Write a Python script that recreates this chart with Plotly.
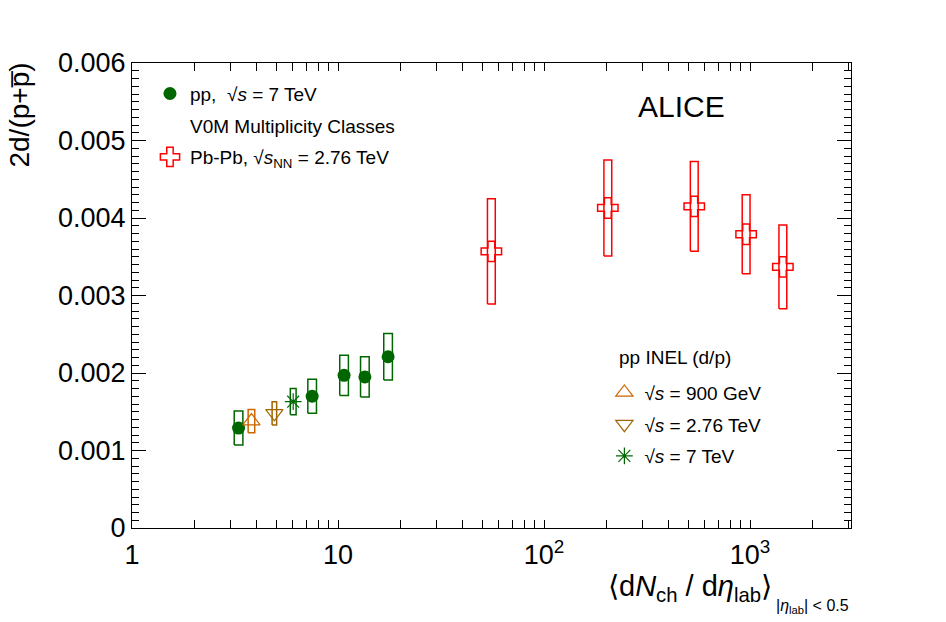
import plotly.graph_objects as go

# ---------------- data ----------------
# pp 7 TeV, V0M multiplicity classes
pp_mult_x = [3.29, 7.49, 10.7, 13.5, 17.5]
pp_mult_y = [0.00129, 0.00170, 0.00197, 0.00195, 0.00221]
pp_mult_sys = [0.00022, 0.00022, 0.00026, 0.00026, 0.00030]

# Pb-Pb 2.76 TeV
pbpb_x = [55.5, 204, 536, 957, 1443]
pbpb_y = [0.00357, 0.00413, 0.00415, 0.00379, 0.00337]
pbpb_sys = [0.00068, 0.00062, 0.00058, 0.00051, 0.00054]

# pp INEL (d/p)
inel900_x = [3.80]
inel900_y = [0.00138]
inel900_sys = [0.00015]

inel276_x = [4.91]
inel276_y = [0.00148]
inel276_sys = [0.00015]

inel7_x = [6.06]
inel7_y = [0.00163]
inel7_sys = [0.00017]

y_tickvals = [0, 0.001, 0.002, 0.003, 0.004, 0.005, 0.006]
y_ticktext = ["0", "0.001", "0.002", "0.003", "0.004", "0.005", "0.006"]
x_decades = [1, 10, 100, 1000]
x_decade_text = ["1", "10", "10<sup>2</sup>", "10<sup>3</sup>"]

# ---------------- styles ----------------
FONT = "Liberation Sans, Arial, Helvetica, sans-serif"
GREEN = "#006600"
RED = "#ff0000"
ORANGE = "#cc6600"
BROWN = "#a06400"


def box_trace(xs, ys, sys, halfw_dec, color, width=1.5):
    bx, by = [], []
    f = 10 ** halfw_dec
    for x, y, s in zip(xs, ys, sys):
        x0, x1 = x / f, x * f
        bx += [x0, x1, x1, x0, x0, None]
        by += [y - s, y - s, y + s, y + s, y - s, None]
    return go.Scatter(x=bx, y=by, mode="lines", line=dict(color=color, width=width),
                      showlegend=False, hoverinfo="skip")


fig = go.Figure()

# systematic boxes
fig.add_trace(box_trace(pp_mult_x, pp_mult_y, pp_mult_sys, 0.021, GREEN))
fig.add_trace(box_trace(inel900_x, inel900_y, inel900_sys, 0.016, ORANGE))
fig.add_trace(box_trace(inel276_x, inel276_y, inel276_sys, 0.011, BROWN))
fig.add_trace(box_trace(inel7_x, inel7_y, inel7_sys, 0.014, GREEN))
fig.add_trace(box_trace(pbpb_x, pbpb_y, pbpb_sys, 0.019, RED))

# markers + legend 1
fig.add_trace(go.Scatter(x=pp_mult_x, y=pp_mult_y, mode="markers",
                         marker=dict(symbol="circle", size=13, color=GREEN),
                         name="pp,  √<i>s</i> = 7 TeV", legend="legend", legendgroup="a"))
fig.add_trace(go.Scatter(x=[None], y=[None], mode="markers",
                         marker=dict(symbol="circle", size=1, color="rgba(0,0,0,0)"),
                         name="V0M Multiplicity Classes", legend="legend", legendgroup="b"))
fig.add_trace(go.Scatter(x=pbpb_x, y=pbpb_y, mode="markers",
                         marker=dict(symbol="cross-open", size=17, color=RED,
                                     line=dict(color=RED, width=1.5)),
                         name="Pb-Pb, √<i>s</i><sub>NN</sub> = 2.76 TeV", legend="legend",
                         legendgroup="c"))

# legend 2
fig.add_trace(go.Scatter(x=inel900_x, y=inel900_y, mode="markers",
                         marker=dict(symbol="triangle-up-open", size=15, color=ORANGE,
                                     line=dict(color=ORANGE, width=1.2)),
                         name="√<i>s</i> = 900 GeV", legend="legend2", legendgroup="d"))
fig.add_trace(go.Scatter(x=inel276_x, y=inel276_y, mode="markers",
                         marker=dict(symbol="triangle-down-open", size=15, color=BROWN,
                                     line=dict(color=BROWN, width=1.2)),
                         name="√<i>s</i> = 2.76 TeV", legend="legend2", legendgroup="e"))
fig.add_trace(go.Scatter(x=inel7_x, y=inel7_y, mode="markers",
                         marker=dict(symbol="asterisk-open", size=14, color=GREEN,
                                     line=dict(color=GREEN, width=1.2)),
                         name="√<i>s</i> = 7 TeV", legend="legend2", legendgroup="f"))

# x tick values (all 1..9 per decade)
x_tickvals, x_ticktext = [], []
for d, lab in zip(x_decades, x_decade_text):
    for m in range(1, 10):
        v = d * m
        if v > 3090:
            break
        x_tickvals.append(v)
        x_ticktext.append(lab if m == 1 else "")

fig.update_layout(
    width=946, height=622,
    margin=dict(l=132, r=95, t=63, b=94),
    paper_bgcolor="white", plot_bgcolor="white",
    font=dict(family=FONT, color="black", size=19),
    xaxis=dict(type="log", range=[0, 3.49], tickvals=x_tickvals, ticktext=x_ticktext,
               ticks="inside", ticklen=8, tickwidth=1, tickcolor="black",
               showline=True, linecolor="black", linewidth=1, mirror="ticks",
               showgrid=False, zeroline=False, tickfont=dict(size=27),
               ticklabelstandoff=3),
    yaxis=dict(range=[0, 0.006], tickvals=y_tickvals, ticktext=y_ticktext,
               ticks="inside", ticklen=14, tickwidth=1, tickcolor="black",
               minor=dict(dtick=0.0001, ticks="inside", ticklen=7, tickcolor="black"),
               showline=True, linecolor="black", linewidth=1, mirror="ticks",
               showgrid=False, zeroline=False, tickfont=dict(size=27)),
    legend=dict(x=0.025, y=0.975, xanchor="left", yanchor="top", bgcolor="rgba(0,0,0,0)",
                font=dict(size=19), tracegroupgap=4, traceorder="grouped"),
    legend2=dict(x=0.657, y=0.332, xanchor="left", yanchor="top", bgcolor="rgba(0,0,0,0)",
                 font=dict(size=19), tracegroupgap=4, traceorder="grouped"),
    showlegend=True,
    annotations=[
        dict(text="ALICE", x=0.701, y=0.9075, xref="paper", yref="paper",
             xanchor="left", yanchor="middle", showarrow=False, font=dict(size=30)),
        dict(text="pp INEL (d/p)", x=(617 - 132) / 719, y=(528 - 357) / 465,
             xref="paper", yref="paper", xanchor="left", yanchor="middle",
             showarrow=False, font=dict(size=19)),
        dict(text="2d/(p+p\u0305)", x=-0.156, y=1.006, xref="paper", yref="paper",
             xanchor="center", yanchor="top", textangle=-90, showarrow=False,
             font=dict(size=28)),
        dict(text="\u27e8d<i>N</i><sub>ch</sub> / d<i>η</i><sub>lab</sub>\u27e9",
             x=(774 - 132) / 719, y=-0.128, xref="paper", yref="paper", xanchor="right",
             yanchor="middle", showarrow=False, font=dict(size=29)),
        dict(text="|<i>η</i><sub>lab</sub>| &lt; 0.5",
             x=1.0, y=-0.168, xref="paper", yref="paper", xanchor="right",
             yanchor="middle", showarrow=False, font=dict(size=16)),
    ],
)

fig.write_html("out.html")
